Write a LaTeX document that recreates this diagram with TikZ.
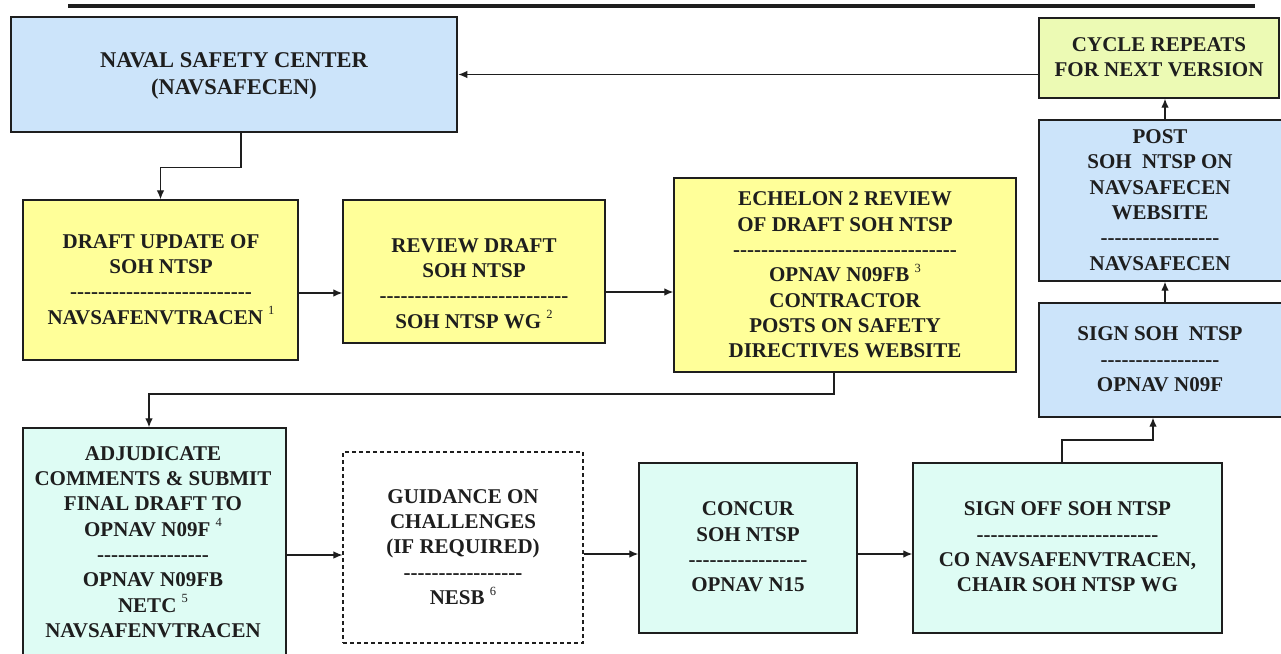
\documentclass[tikz,border=0pt]{standalone}
\usepackage{fontspec}
\setmainfont{Liberation Serif}
\usetikzlibrary{arrows.meta}
\ExplSyntaxOn
\NewDocumentCommand\hyphens{m}{\prg_replicate:nn{#1}{-{}}}
\ExplSyntaxOff
\newcommand\fnum[1]{\raisebox{0.45em}{\fontsize{12.5}{12.5}\selectfont\mdseries #1}}
\definecolor{skyb}{RGB}{204,228,250}
\definecolor{yelw}{RGB}{255,255,153}
\definecolor{cycg}{RGB}{236,250,180}
\definecolor{mint}{RGB}{222,252,244}
\definecolor{ink}{RGB}{30,30,30}
\tikzset{
  box/.style={draw=ink, line width=1.4pt, inner sep=0pt, anchor=center},
  txt/.style={font=\fontsize{21}{25.3}\selectfont\bfseries, align=center, inner sep=0pt, text=ink},
  arr/.style={draw=ink, line width=1.2pt, -{Latex[length=9pt,width=7.5pt]}},
}
\begin{document}
\begin{tikzpicture}[x=1pt,y=-1pt]
\clip (0,0) rectangle (1281,653);
\fill[white] (0,0) rectangle (1281,653);
\draw[line width=4pt, ink] (68,5.5) -- (1255,5.5);

% boxes
\node[box, fill=skyb, line width=2.6pt, minimum width=446pt, minimum height=115pt] (nsc) at (234,74.5) {};
\node[txt, font=\fontsize{22.5}{27}\selectfont\bfseries] (nsct) at (234,75.5) {NAVAL SAFETY CENTER\\(NAVSAFECEN)};

\node[box, fill=cycg, minimum width=240pt, minimum height=80pt] (cyc) at (1159,58) {};
\node[txt] (cyct) at (1159,57) {CYCLE REPEATS\\FOR NEXT VERSION};

\node[box, fill=skyb, minimum width=244pt, minimum height=161pt] (post) at (1161,200.5) {};
\node[txt] (postt) at (1160,200) {POST\\SOH~~NTSP ON\\NAVSAFECEN\\WEBSITE\\\hyphens{17}\\NAVSAFECEN};

\node[box, fill=skyb, minimum width=244pt, minimum height=114pt] (sign) at (1161,360) {};
\node[txt] (signt) at (1160,359.5) {SIGN SOH~~NTSP\\\hyphens{17}\\OPNAV N09F};

\node[box, fill=yelw, minimum width=275pt, minimum height=160pt] (draft) at (160.5,280) {};
\node[txt] (draftt) at (161,279.5) {DRAFT UPDATE OF\\SOH NTSP\\\hyphens{26}\\NAVSAFENVTRACEN \fnum{1}};

\node[box, fill=yelw, minimum width=262pt, minimum height=143pt] (rev) at (474,271.5) {};
\node[txt] (revt) at (474,283.5) {REVIEW DRAFT\\SOH NTSP\\\hyphens{27}\\SOH NTSP WG \fnum{2}};

\node[box, fill=yelw, minimum width=342pt, minimum height=194pt] (ech) at (845,275) {};
\node[txt] (echt) at (845,275) {ECHELON 2 REVIEW\\OF DRAFT SOH NTSP\\\hyphens{32}\\OPNAV N09FB \fnum{3}\\CONTRACTOR\\POSTS ON SAFETY\\DIRECTIVES WEBSITE};

\node[box, fill=mint, minimum width=263pt, minimum height=234pt] (adj) at (154.5,545) {};
\node[txt] (adjt) at (153,542) {ADJUDICATE\\COMMENTS \& SUBMIT\\FINAL DRAFT TO\\OPNAV N09F \fnum{4}\\\hyphens{16}\\OPNAV N09FB\\NETC \fnum{5}\\NAVSAFENVTRACEN};

\node[box, fill=white, line width=1.1pt, dash pattern=on 4pt off 3pt, minimum width=240pt, minimum height=191pt] (gui) at (463,547.5) {};
\node[txt] (guit) at (463,547) {GUIDANCE ON\\CHALLENGES\\(IF REQUIRED)\\\hyphens{17}\\NESB \fnum{6}};

\node[box, fill=mint, minimum width=218pt, minimum height=170pt] (con) at (748,548) {};
\node[txt] (cont) at (748,547) {CONCUR\\SOH NTSP\\\hyphens{17}\\OPNAV N15};

\node[box, fill=mint, minimum width=309pt, minimum height=170pt] (sof) at (1067.5,548) {};
\node[txt] (soft) at (1067.5,547) {SIGN OFF SOH NTSP\\\hyphens{26}\\CO NAVSAFENVTRACEN,\\CHAIR SOH NTSP WG};

% connectors
\draw[arr] (cyc.west |- nsc.east) -- (nsc.east);
\draw[arr] ([xshift=7pt]nsc.south) -- ++(0,34) -| (draft.north);
\draw[arr] (draft.east |- 0,293) -- (rev.west |- 0,293);
\draw[arr] (rev.east |- 0,292) -- (ech.west |- 0,292);
\draw[arr] (834,0 |- ech.south) -- (834,394) -| (149,0 |- adj.north);
\draw[arr] (adj.east |- 0,555) -- (gui.west |- 0,555);
\draw[arr] (gui.east |- 0,554) -- (con.west |- 0,554);
\draw[arr] (con.east |- 0,554) -- (sof.west |- 0,554);
\draw[arr] (1062,0 |- sof.north) -- (1062,440) -| (1153,0 |- sign.south);
\draw[arr] (1165,0 |- sign.north) -- (1165,0 |- post.south);
\draw[arr] (1165,0 |- post.north) -- (1165,0 |- cyc.south);
\end{tikzpicture}
\end{document}
